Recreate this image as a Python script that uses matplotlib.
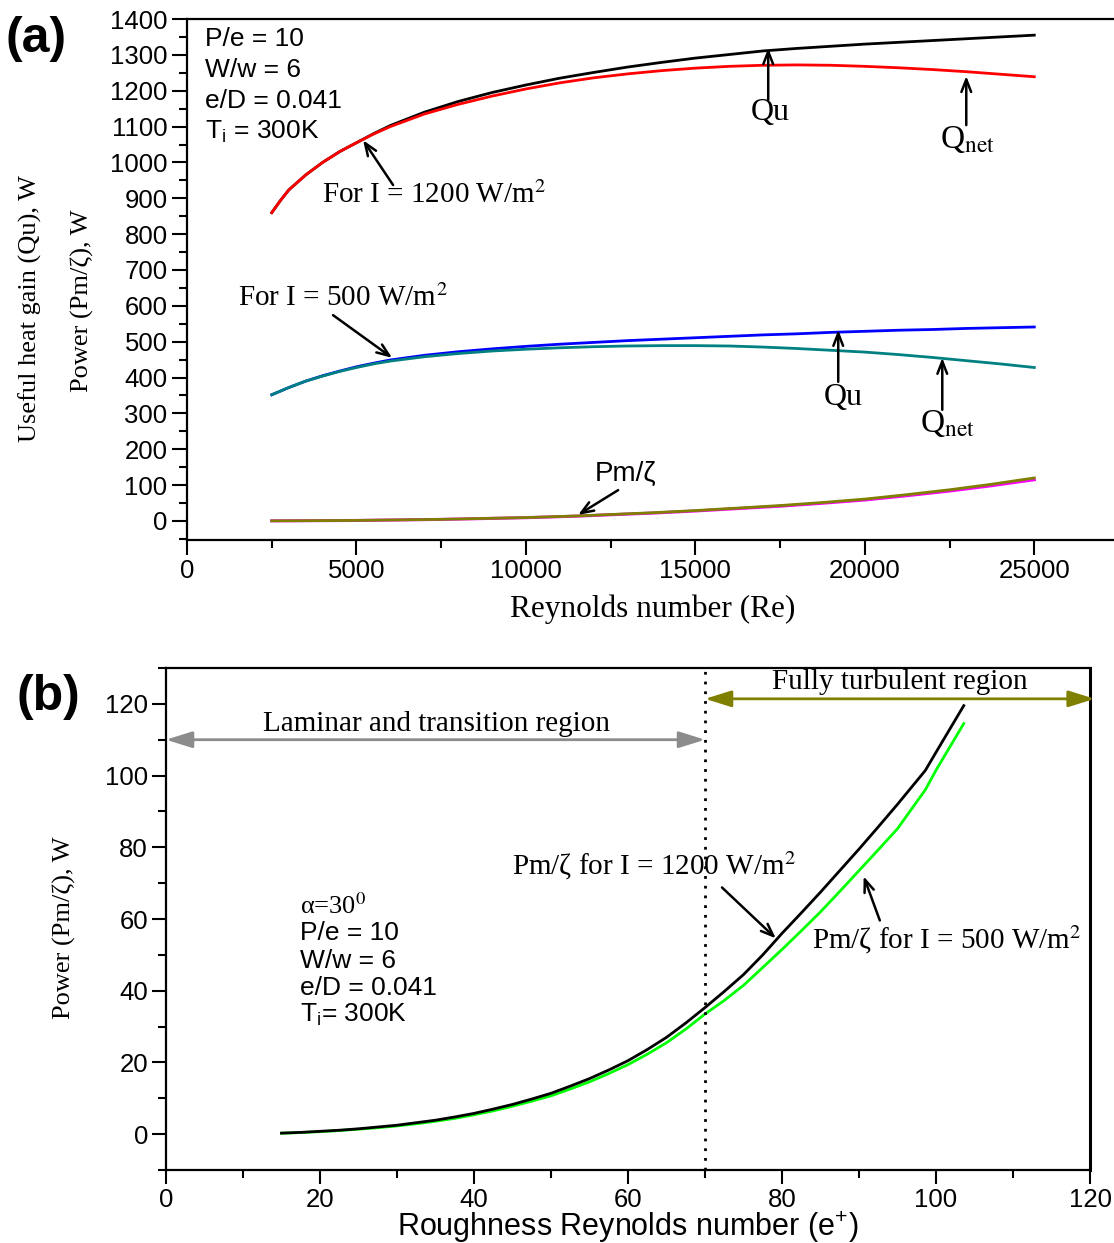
import matplotlib
matplotlib.use("Agg")
import matplotlib.pyplot as plt
from matplotlib.ticker import MultipleLocator

plt.rcParams['mathtext.fontset'] = 'custom'
plt.rcParams['mathtext.rm'] = 'Liberation Sans'
plt.rcParams['mathtext.it'] = 'Liberation Sans:italic'

SANS = ['Liberation Sans', 'DejaVu Sans']
SERIF = ['Liberation Serif', 'DejaVu Serif']

# ---------------- data: panel (a) ----------------
re_a = [2500, 2750, 3000, 3500, 4000, 4500, 5000, 5500, 6000, 7000, 8000,
        9000, 10000, 11000, 12000, 13000, 14000, 15000, 16000, 17000, 18000,
        19000, 20000, 21000, 22000, 23000, 24000, 25000]
qu_1200 = [860, 893, 923, 965, 1000, 1030, 1055, 1080, 1103, 1140, 1170,
           1195, 1216, 1235, 1251, 1266, 1279, 1291, 1301, 1311, 1318, 1324,
           1330, 1335, 1340, 1345, 1350, 1355]
qnet_1200 = [860, 893, 923, 965, 1000, 1030, 1055, 1079, 1100, 1135, 1162,
             1185, 1205, 1222, 1236, 1247, 1256, 1263, 1268, 1271, 1272, 1271,
             1268, 1264, 1259, 1253, 1246, 1239]
qu_500 = [352, 362, 372, 390, 405, 418, 430, 440, 449, 462, 472, 480, 487,
          493, 498, 503, 507, 511, 515, 519, 522, 526, 529, 532, 534, 537,
          539, 541]
qnet_500 = [352, 362, 372, 390, 404, 417, 428, 438, 446, 458, 467, 474, 479,
            483, 486, 488, 489, 489, 488, 485, 481, 476, 471, 464, 456, 447,
            438, 428]
re_pm = [2500, 5000, 7500, 10000, 11500, 12500, 13750, 15000, 16250, 17500,
         18750, 20000, 21250, 22500, 23750, 25000]
pm_1200 = [0.3, 1.5, 4.5, 9.5, 14, 18, 23, 29, 36, 43, 51.5, 61, 73.5, 87,
           102.5, 120]
pm_500 = [0.3, 1.4, 4.3, 9.1, 13.4, 17.3, 22, 27.8, 34.5, 41.2, 49.4, 58.5,
          70.5, 83.5, 98.4, 115]

# ---------------- data: panel (b) ----------------
ep_b_1200 = [15, 17.5, 20, 22.5, 25, 27.5, 30, 32.5, 35, 37.5, 40, 42.5, 45,
             47.5, 50, 52.5, 55, 57.5, 60, 62.5, 65, 67.5, 70, 72.5, 75, 77.5,
             80, 82.5, 85, 87.5, 90, 92.5, 95, 98.6, 100, 103.6]
pm_b_1200 = [0.3, 0.5, 0.8, 1.1, 1.5, 2.0, 2.5, 3.2, 3.9, 4.8, 5.8, 7.0, 8.3,
             9.8, 11.4, 13.4, 15.5, 17.9, 20.5, 23.6, 27.0, 31.0, 35.3, 39.8,
             44.5, 50.0, 56.0, 61.7, 67.5, 73.5, 79.5, 85.7, 92.0, 101.4,
             106.5, 119.5]
ep_b_500 = [15, 17.5, 20, 22.5, 25, 27.5, 30, 32.5, 35, 37.5, 40, 42.5, 45,
            47.5, 50, 52.5, 55, 57.5, 60, 62.5, 65, 67.5, 70, 72.5, 75, 77.5,
            80, 82.5, 85, 87.5, 90, 92.5, 95, 98.6, 100, 103.6]
pm_b_500 = [0.25, 0.45, 0.7, 1.0, 1.4, 1.8, 2.3, 2.9, 3.6, 4.4, 5.4, 6.5, 7.8,
            9.2, 10.7, 12.6, 14.6, 16.9, 19.4, 22.3, 25.5, 29.3, 33.5, 37.3,
            41.5, 46.5, 51.5, 56.7, 62.0, 67.7, 73.5, 79.3, 85.2, 96.0,
            101.5, 114.5]

fig = plt.figure(figsize=(11.14, 12.43), dpi=100)

TICK_FS = 18.5
PARAM_FS = 19
ANN_FS = 21

# ================= panel (a) =================
axa = fig.add_axes([0.1679, 0.5656, 0.8366, 0.4191])
axa.plot(re_a, qu_1200, color='black', lw=2)
axa.plot(re_a, qnet_1200, color='#ff0000', lw=2)
axa.plot(re_a, qu_500, color='#0000ff', lw=2)
axa.plot(re_a, qnet_500, color='#008080', lw=2)
axa.plot(re_pm, pm_500, color='#ff00ff', lw=2.2)
axa.plot(re_pm, pm_1200, color='#808000', lw=2)

axa.set_xlim(0, 27500)
axa.set_ylim(-53, 1400)
axa.xaxis.set_major_locator(MultipleLocator(5000))
axa.xaxis.set_minor_locator(MultipleLocator(2500))
axa.yaxis.set_major_locator(MultipleLocator(100))
axa.yaxis.set_minor_locator(MultipleLocator(50))
axa.spines['right'].set_visible(False)
for s in ['left', 'bottom', 'top']:
    axa.spines[s].set_linewidth(1.6)
axa.tick_params(which='major', direction='out', length=11, width=1.5, pad=3)
axa.tick_params(which='minor', direction='out', length=6, width=1.5)
for lab in axa.get_yticklabels() + axa.get_xticklabels():
    lab.set_family(SANS)
    lab.set_fontsize(TICK_FS)
axa.set_xlabel('Reynolds number (Re)', family=SERIF, fontsize=22.5,
               labelpad=8)

fig.text(0.027, 0.752, 'Useful heat gain (Qu), W', rotation=90, family=SERIF,
         fontsize=19, ha='center', va='center')
fig.text(0.074, 0.758, 'Power (Pm/\u03b6), W', rotation=90, family=SERIF,
         fontsize=19, ha='center', va='center')
fig.text(0.005, 0.969, '(a)', family=SANS, fontsize=36, fontweight='bold',
         ha='left', va='center')

params_a = ['P/e = 10', 'W/w = 6', 'e/D = 0.041', r'T$_\mathrm{i}$ = 300K']
for i, t in enumerate(params_a):
    axa.text(0.0195, 0.962 - i * 0.0595, t, transform=axa.transAxes,
             family=SANS, fontsize=PARAM_FS, ha='left', va='center')

arrow_kw = dict(arrowstyle='->, head_length=0.9, head_width=0.35', lw=1.8,
                color='black', shrinkA=0, shrinkB=0)

axa.annotate('', xy=(5195, 1062), xytext=(6080, 937), arrowprops=arrow_kw)
axa.text(7300, 910, r'For I = 1200 W/m$^2$', family=SERIF,
         math_fontfamily='stix', fontsize=ANN_FS, ha='center', va='center')
axa.annotate('', xy=(6051, 455), xytext=(4309, 574), arrowprops=arrow_kw)
axa.text(4600, 621, r'For I = 500 W/m$^2$', family=SERIF,
         math_fontfamily='stix', fontsize=ANN_FS, ha='center', va='center')
axa.annotate('', xy=(17149, 1319), xytext=(17149, 1174), arrowprops=arrow_kw)
axa.text(17208, 1140, 'Qu', family=SERIF, fontsize=23, ha='center',
         va='center')
axa.annotate('', xy=(22993, 1241), xytext=(22993, 1104), arrowprops=arrow_kw)
axa.text(23022, 1065, r'Q$_\mathrm{net}$', family=SERIF,
         math_fontfamily='stix', fontsize=24, ha='center', va='center')
axa.annotate('', xy=(19215, 533), xytext=(19215, 388), arrowprops=arrow_kw)
axa.text(19362, 345, 'Qu', family=SERIF, fontsize=23, ha='center',
         va='center')
axa.annotate('', xy=(22285, 455), xytext=(22285, 310), arrowprops=arrow_kw)
axa.text(22432, 271, r'Q$_\mathrm{net}$', family=SERIF,
         math_fontfamily='stix', fontsize=24, ha='center', va='center')
axa.annotate('', xy=(11540, 17), xytext=(12720, 86), arrowprops=arrow_kw)
axa.text(12928, 130, 'Pm/\u03b6', family=SANS, fontsize=20, ha='center',
         va='center')

# ================= panel (b) =================
axb = fig.add_axes([0.149, 0.0587, 0.8295, 0.4039])
axb.plot(ep_b_500, pm_b_500, color='#00ff00', lw=2)
axb.plot(ep_b_1200, pm_b_1200, color='black', lw=2)
axb.axvline(70, color='black', ls=(0, (1, 2.5)), lw=2)

axb.set_xlim(0, 120)
axb.set_ylim(-10, 130)
axb.xaxis.set_major_locator(MultipleLocator(20))
axb.xaxis.set_minor_locator(MultipleLocator(10))
axb.yaxis.set_major_locator(MultipleLocator(20))
axb.yaxis.set_minor_locator(MultipleLocator(10))
for s in axb.spines.values():
    s.set_linewidth(1.6)
axb.spines['right'].set_linewidth(2.2)
axb.tick_params(which='major', direction='out', length=10, width=1.5, pad=3)
axb.tick_params(which='minor', direction='out', length=6, width=1.5)
for lab in axb.get_yticklabels() + axb.get_xticklabels():
    lab.set_family(SANS)
    lab.set_fontsize(TICK_FS)
fig.text(0.5637, 0.0125, r'Roughness Reynolds number (e$^\mathrm{+}$)',
         family=SANS, fontsize=22, ha='center', va='center')
fig.text(0.058, 0.254, 'Power (Pm/\u03b6), W', rotation=90, family=SERIF,
         fontsize=19, ha='center', va='center')
fig.text(0.015, 0.439, '(b)', family=SANS, fontsize=36, fontweight='bold',
         ha='left', va='center')

dbl = dict(arrowstyle='<|-|>, head_length=1.6, head_width=0.5', lw=2,
           shrinkA=0, shrinkB=0)
axb.annotate('', xy=(0, 110), xytext=(70, 110),
             arrowprops=dict(color='#8c8c8c', **dbl), annotation_clip=False)
axb.text(35.1, 114.4, 'Laminar and transition region', family=SERIF,
         fontsize=ANN_FS, ha='center', va='center')
axb.annotate('', xy=(70, 121.4), xytext=(120.6, 121.4),
             arrowprops=dict(color='#808000', **dbl), annotation_clip=False)
axb.text(95.3, 126.0, 'Fully turbulent region', family=SERIF,
         fontsize=ANN_FS, ha='center', va='center')

params_b = ['\u03b1=30$^0$', 'P/e = 10', 'W/w = 6', 'e/D = 0.041',
            r'T$_\mathrm{i}$= 300K']
for i, t in enumerate(params_b):
    kw = dict(math_fontfamily='stix', family=SERIF) if i == 0 else dict(family=SANS)
    axb.text(17.4, 63.6 - i * 7.6, t, fontsize=PARAM_FS, ha='left',
             va='center', **kw)

axb.annotate('', xy=(79.2, 54.6), xytext=(72.2, 68.8), arrowprops=arrow_kw)
axb.text(63.4, 75.0, 'Pm/\u03b6 for I = 1200 W/m$^2$', family=SERIF,
         math_fontfamily='stix', fontsize=ANN_FS, ha='center', va='center')
axb.annotate('', xy=(90.6, 71.9), xytext=(92.7, 59.6), arrowprops=arrow_kw)
axb.text(101.4, 54.3, 'Pm/\u03b6 for I = 500 W/m$^2$', family=SERIF,
         math_fontfamily='stix', fontsize=ANN_FS, ha='center', va='center')

fig.savefig('out.png', dpi=100)
